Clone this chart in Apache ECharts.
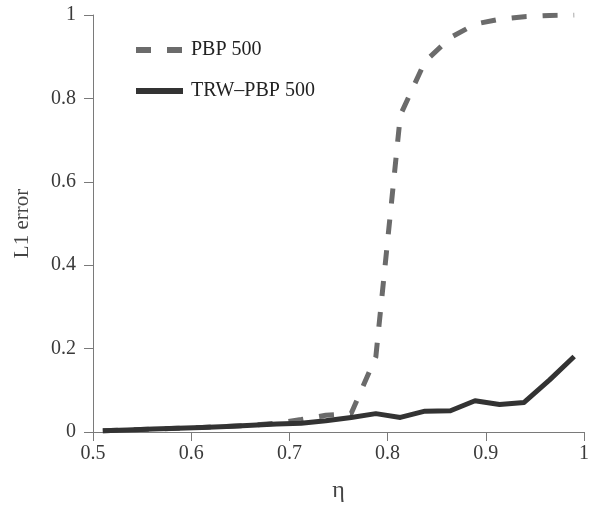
<!DOCTYPE html>
<html>
<head>
<meta charset="utf-8">
<script src="https://cdn.jsdelivr.net/npm/echarts@6/dist/echarts.min.js"></script>
<style>
html,body{margin:0;padding:0;background:#fff;}
#chart{width:592px;height:510px;}
</style>
</head>
<body>
<div id="chart"></div>
<script>
var eta = [0.510, 0.535, 0.561, 0.586, 0.611, 0.636, 0.662, 0.687, 0.712, 0.737,
           0.763, 0.788, 0.813, 0.838, 0.864, 0.889, 0.914, 0.939, 0.965, 0.990];
var pbp500 = [0.003, 0.005, 0.007, 0.009, 0.011, 0.013, 0.016, 0.021, 0.030, 0.040,
              0.045, 0.180, 0.760, 0.888, 0.946, 0.978, 0.990, 0.996, 0.999, 1.000];
var trwPbp500 = [0.003, 0.005, 0.007, 0.009, 0.011, 0.013, 0.016, 0.019, 0.021, 0.027,
                 0.035, 0.044, 0.035, 0.050, 0.051, 0.075, 0.066, 0.071, 0.125, 0.181];
var seriesNames = ['PBP 500', 'TRW\u2013PBP 500'];
var xAxisName = '\u03b7';
var yAxisName = 'L1 error';

function pairs(xs, ys) { return xs.map(function (x, i) { return [x, ys[i]]; }); }

var font = '"Liberation Serif", "Times New Roman", serif';
var chart = echarts.init(document.getElementById('chart'), null, {renderer: 'canvas'});
chart.setOption({
  animation: false,
  backgroundColor: '#fff',
  grid: {left: 93, right: 6, top: 15, bottom: 78, containLabel: false},
  legend: {
    orient: 'vertical', left: 128, top: 35,
    itemWidth: 47, itemHeight: 14, itemGap: 21,
    itemStyle: {opacity: 0},
    lineStyle: {width: 6},
    textStyle: {fontFamily: font, fontSize: 20, color: '#222', padding: [0, 0, 0, 3]},
    data: seriesNames
  },
  xAxis: {
    type: 'value', min: 0.5, max: 1, interval: 0.1,
    name: xAxisName, nameLocation: 'middle', nameGap: 47,
    nameTextStyle: {fontFamily: font, fontSize: 24, color: '#444'},
    axisLine: {show: true, onZero: false, lineStyle: {color: '#7a7a7a', width: 1}},
    axisTick: {show: true, inside: false, length: 9, lineStyle: {color: '#7a7a7a'}},
    axisLabel: {fontFamily: font, fontSize: 20, color: '#3a3a3a', margin: 12},
    splitLine: {show: false}
  },
  yAxis: {
    type: 'value', min: 0, max: 1, interval: 0.2,
    name: yAxisName, nameLocation: 'middle', nameGap: 60, nameRotate: 90,
    nameTextStyle: {fontFamily: font, fontSize: 21, color: '#444'},
    axisLine: {show: true, lineStyle: {color: '#7a7a7a', width: 1}},
    axisTick: {show: true, inside: false, length: 9, lineStyle: {color: '#7a7a7a'}},
    axisLabel: {fontFamily: font, fontSize: 20, color: '#3a3a3a', margin: 17},
    splitLine: {show: false}
  },
  series: [
    {
      name: seriesNames[0], type: 'line', data: pairs(eta, pbp500),
      symbol: 'none', smooth: false, z: 2,
      itemStyle: {color: '#6b6b6b'},
      lineStyle: {color: '#6b6b6b', width: 5, type: [15, 16], cap: 'butt'}
    },
    {
      name: seriesNames[1], type: 'line', data: pairs(eta, trwPbp500),
      symbol: 'none', smooth: false, z: 3,
      itemStyle: {color: '#333'},
      lineStyle: {color: '#333', width: 5, cap: 'butt', join: 'round'}
    }
  ]
});
</script>
</body>
</html>
